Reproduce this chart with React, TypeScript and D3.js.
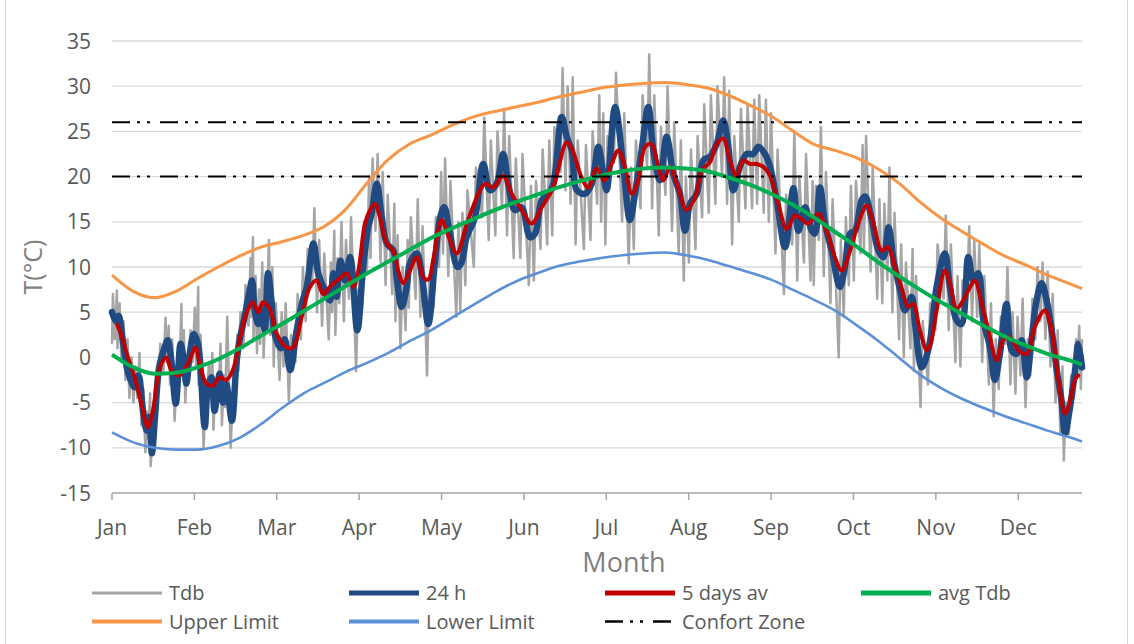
import React from "react";
import * as d3 from "d3";

// ---- chart data -------------------------------------------------------

const monthLabels = ["Jan", "Feb", "Mar", "Apr", "May", "Jun", "Jul", "Aug", "Sep", "Oct", "Nov", "Dec"];
// category axis labels are placed every 744 h (31 days)
const monthTickDays = [0, 31, 62, 93, 124, 155, 186, 217, 248, 279, 310, 341];
const yTicks = [-15, -10, -5, 0, 5, 10, 15, 20, 25, 30, 35];
const comfortLimits = [20, 26];

// daily statistics of the dry-bulb temperature (day of year, 24 h mean, hourly min, hourly max)
const dayOfYear = [
  0, 1.5, 2.5, 4, 5.5, 7, 8.5, 10, 11.5, 13, 14, 15, 16.2, 17.8, 19.8, 21, 22.3, 24, 25.8, 26.7,
  28, 29.2, 30.8, 32.1, 33, 34.9, 36.1, 37.4, 38.6, 40.5, 41.8, 43, 45.1, 46.8, 48, 49.9, 51.8, 52.7, 53.7, 55,
  56.2, 57.5, 58.7, 60, 61.3, 63.5, 65, 67, 69.5, 71.5, 73.3, 75.8, 77.6, 79.5, 82, 83.3, 84.5, 86, 87.7, 89.6,
  92.3, 94.5, 96.4, 97.7, 99.6, 101.5, 103.4, 105.9, 107.1, 109, 110.9, 112.1, 114.7, 116.5, 119, 121.5, 123.5, 125, 127, 130,
  131.5, 133.4, 136.6, 139.7, 142.2, 144.7, 147.2, 149.1, 151.6, 154.1, 157.3, 159.2, 161.7, 164.2, 166.1, 169.2, 171.1, 173, 174.9, 178,
  180.5, 183, 184.5, 186.1, 189.3, 192.4, 194.9, 196.8, 199.3, 201.8, 203.7, 206.2, 208.7, 211.2, 213.7, 215.6, 217.5, 220, 222.5, 225,
  227.5, 230, 231.9, 233.8, 236.3, 238.8, 241.3, 243.2, 245.7, 247.6, 250.1, 253.3, 256.4, 258.3, 260.8, 263.3, 264.5, 266.4, 268.3, 270.8,
  273.9, 275.8, 277.7, 279.6, 282.1, 283.4, 285.9, 288.4, 290.3, 292.2, 294.1, 296.6, 298.4, 300.9, 302.2, 304.7, 307.5, 310.3, 313.4, 315.3,
  317.8, 319.7, 322.2, 324.1, 326, 327.9, 330.4, 332.2, 334.1, 336.6, 338.5, 340.4, 342.3, 344.2, 346, 347.9, 349.8, 351.7, 353.6, 355.5,
  357.3, 358.6, 360.5, 362.4, 363.6, 365,
];
const mean24h = [
  5.0, 4.0, 4.6, 2.0, -1.0, -2.5, -3.3, -2.0, -5.5, -8.1, -6.6, -10.6, -6.5, -1.0, 1.1, 1.9, -0.3, -5.1, 1.5, 0.3,
  -2.9, 0.3, 2.6, 1.8, 0.0, -7.7, -3.2, -2.2, -5.9, -1.8, -5.0, -3.0, -7.0, -0.7, 1.9, 4.5, 7.4, 8.5, 5.2, 3.7,
  5.2, 3.0, 9.3, 6.3, 2.5, 1.0, 2.0, -1.4, 3.0, 6.0, 7.8, 12.6, 9.3, 7.8, 6.3, 9.3, 6.7, 10.7, 8.5, 11.1,
  3.0, 10.0, 14.4, 15.9, 19.2, 15.5, 12.6, 11.8, 8.9, 5.6, 7.8, 10.4, 11.5, 9.3, 3.7, 10.5, 15.5, 16.6, 14.0, 10.0,
  10.5, 13.3, 15.5, 21.4, 18.5, 19.2, 22.5, 19.2, 16.3, 16.6, 13.3, 13.7, 17.4, 18.1, 19.2, 26.6, 24.4, 22.9, 18.5, 18.1,
  19.2, 23.3, 21.0, 18.5, 27.7, 21.1, 15.2, 18.1, 22.9, 27.7, 22.9, 19.6, 24.4, 20.3, 18.1, 14.0, 17.0, 18.1, 21.8, 22.2,
  23.6, 26.2, 23.3, 18.5, 21.1, 22.5, 22.5, 23.3, 22.5, 21.1, 17.4, 12.2, 18.7, 14.0, 16.6, 14.0, 13.7, 18.8, 14.8, 11.8,
  7.8, 10.0, 13.7, 14.0, 17.4, 17.8, 15.2, 11.8, 11.1, 14.4, 10.7, 7.4, 5.2, 6.7, 3.7, -1.1, 1.3, 7.8, 11.5, 7.8,
  4.1, 3.7, 11.1, 8.5, 9.3, 4.1, 1.1, -2.5, 0.4, 5.9, 0.8, 0.4, 1.9, -2.2, 1.9, 6.3, 8.2, 6.3, 3.0, -1.4,
  -4.8, -8.4, -5.5, -1.4, 1.5, -1.1,
];
const tdbMin = [
  1.5, 2.0, 1.0, -0.5, -2.5, -4.5, -5.0, -4.5, -7.5, -10.5, -9.0, -12.0, -9.5, -4.0, -1.5, -0.5, -3.0, -7.0, -1.5, -2.0,
  -5.0, -2.0, -0.5, -1.0, -3.0, -10.0, -6.0, -4.5, -8.0, -4.5, -7.5, -5.5, -10.0, -3.5, -1.5, 1.0, 3.5, 4.5, 2.0, 0.5,
  1.5, 0.0, 5.0, 2.5, -1.0, -2.5, -1.0, -4.8, -0.5, 2.0, 4.0, 8.0, 5.0, 3.5, 2.0, 5.0, 2.5, 6.0, 4.0, 6.5,
  -1.5, 5.5, 9.5, 11.0, 14.0, 10.5, 8.0, 7.0, 4.0, 1.0, 3.0, 5.5, 6.5, 4.5, -2.0, 5.5, 10.0, 11.5, 9.0, 4.5,
  5.0, 8.0, 10.0, 15.5, 13.0, 13.5, 16.5, 13.5, 11.0, 11.0, 8.0, 8.5, 12.0, 12.5, 13.5, 20.5, 18.5, 17.0, 12.5, 12.0,
  13.0, 17.0, 15.0, 12.5, 21.5, 15.0, 10.4, 12.0, 16.5, 21.0, 16.5, 13.5, 18.0, 14.0, 11.5, 8.5, 10.5, 12.0, 15.5, 16.0,
  17.0, 20.0, 17.0, 12.5, 15.0, 16.5, 16.5, 17.0, 16.0, 15.0, 11.5, 7.0, 12.5, 8.5, 10.5, 8.5, 8.0, 13.0, 9.0, 6.0,
  0.0, 4.5, 8.0, 8.5, 11.5, 12.0, 9.5, 6.5, 6.0, 8.5, 5.0, 2.0, 0.0, 1.0, -1.5, -5.5, -3.0, 3.0, 6.5, 3.0,
  -0.5, -1.0, 6.5, 4.0, 4.5, -0.5, -3.0, -6.5, -3.5, 1.5, -3.0, -4.0, -2.0, -5.5, -2.0, 2.0, 4.0, 2.0, -1.0, -5.0,
  -8.5, -11.4, -8.5, -4.5, -2.0, -3.5,
];
const tdbMax = [
  7.0, 7.4, 6.0, 4.0, 2.0, 0.0, -1.0, 0.5, -3.5, -6.0, -4.0, -8.0, -3.5, 1.5, 4.4, 3.5, 2.0, -2.0, 5.9, 3.0,
  -0.5, 3.0, 5.5, 7.8, 2.5, -4.5, -0.5, 0.5, -3.0, 1.5, -2.0, 4.5, -4.0, 2.5, 5.0, 8.0, 11.0, 13.3, 9.0, 7.5,
  10.5, 7.0, 13.0, 10.0, 6.0, 5.0, 6.0, 2.5, 7.0, 10.0, 12.0, 16.5, 13.0, 11.5, 10.5, 14.0, 11.0, 15.0, 13.0, 15.5,
  7.5, 15.0, 20.0, 22.0, 22.5, 20.5, 18.0, 17.0, 13.5, 10.0, 13.0, 15.5, 17.5, 14.5, 8.5, 15.5, 20.5, 22.0, 19.5, 15.0,
  16.0, 18.5, 21.0, 26.5, 24.0, 25.0, 27.5, 24.5, 22.0, 22.5, 19.0, 19.5, 23.0, 24.0, 25.5, 32.0, 30.0, 31.0, 24.0, 23.5,
  25.0, 29.0, 27.0, 24.5, 31.5, 27.0, 21.0, 24.0, 29.0, 33.5, 29.0, 25.5, 30.0, 26.0, 24.0, 20.0, 23.0, 24.5, 28.0, 29.0,
  30.0, 31.0, 29.5, 24.5, 27.5, 28.0, 28.5, 29.0, 28.5, 27.0, 23.0, 18.0, 25.0, 20.0, 22.5, 19.5, 19.0, 25.5, 20.5, 17.5,
  13.0, 15.5, 19.0, 19.5, 23.5, 24.5, 21.0, 17.5, 17.0, 21.0, 16.0, 12.5, 10.5, 12.0, 9.0, 4.0, 6.0, 12.5, 15.7, 12.5,
  9.0, 8.5, 14.5, 13.0, 12.5, 9.0, 6.0, 2.0, 4.5, 10.0, 5.0, 4.5, 6.5, 2.0, 6.5, 10.0, 10.5, 9.5, 7.0, 3.0,
  -1.0, -5.0, -2.0, 2.0, 3.5, 2.0,
];

// 5-day running average
const fiveDayDays = [
  2, 3.5, 6, 8.5, 11, 13.5, 15.4, 18, 20.4, 22.3, 24.8, 26.7, 29.2, 31.4, 33, 35.5, 38, 40.5, 43, 45.5,
  48, 50.5, 53, 55, 56.8, 59.3, 62, 65.7, 68.2, 71.4, 74.5, 77, 79.5, 82, 84.6, 86.4, 88.3, 90.8, 92.7, 95.2,
  97.1, 99, 100.8, 103.4, 105.9, 107.7, 109.6, 112.1, 114.7, 117.1, 119, 121, 124, 126.5, 129.7, 134, 140.4, 143.5, 147.2, 150.4,
  154.2, 157.9, 161.7, 166, 171.1, 173, 176.7, 179.2, 182.4, 185.2, 188, 190.5, 193, 195.6, 198, 200.6, 203, 205, 207.5, 210,
  213, 216.2, 219.4, 222, 225, 227.5, 230, 232.5, 235, 237.6, 240, 242.6, 245, 247.6, 250.7, 253.9, 257, 259.5, 262, 265.8,
  268.9, 272, 274.6, 277.7, 280.8, 284, 286.5, 289.6, 292, 294.6, 297, 299.6, 301.5, 304, 306.6, 308, 310.3, 313.4, 315.3, 317.8,
  320.3, 322.9, 324.7, 327.3, 329.8, 332.9, 335.4, 337.9, 341, 344.2, 347.3, 351, 353.6, 356.1, 358.6, 360.5, 362.4, 363.6,
];
const fiveDayAvg = [
  3.6, 2.5, 0.0, -2.2, -5.1, -7.7, -5.9, -1.1, 0.0, -1.4, -2.0, -1.6, -0.3, 1.1, -0.7, -2.9, -3.1, -2.2, -2.5, -1.4,
  1.9, 4.8, 6.1, 5.0, 6.1, 5.4, 2.6, 1.1, 1.1, 4.5, 7.8, 8.5, 7.0, 7.8, 8.5, 8.9, 9.3, 7.8, 9.6, 14.8,
  16.3, 17.0, 15.5, 12.6, 11.8, 9.6, 8.2, 9.6, 11.1, 8.9, 8.6, 11.0, 15.2, 13.5, 11.5, 15.2, 19.2, 18.8, 20.1, 18.1,
  16.3, 14.8, 16.6, 18.8, 23.8, 23.1, 19.9, 18.8, 20.9, 19.6, 21.4, 22.9, 21.1, 18.1, 19.6, 23.3, 23.6, 21.8, 19.6, 21.1,
  18.8, 16.3, 17.7, 20.7, 21.6, 23.6, 24.2, 21.8, 20.1, 21.8, 21.4, 21.4, 21.1, 20.1, 17.0, 14.2, 15.7, 15.3, 14.8, 15.9,
  14.0, 11.1, 9.6, 11.8, 14.8, 16.8, 14.8, 11.8, 12.2, 10.0, 7.8, 5.6, 5.9, 3.0, 0.8, 1.5, 5.2, 9.6, 8.2, 5.4,
  6.3, 7.8, 8.5, 5.9, 3.0, -0.3, 1.9, 2.2, 0.8, 0.4, 3.4, 5.2, 3.0, -2.5, -6.2, -4.8, -2.5, -2.0,
];

// smooth annual curves, sampled every 8 days
const smoothDays = [
  0, 8, 16, 24, 32, 40, 48, 56, 64, 72, 80, 88, 96, 104, 112, 120, 128, 136, 144, 152, 160, 168, 176, 184,
  192, 200, 208, 216, 224, 232, 240, 248, 256, 264, 272, 280, 288, 296, 304, 312, 320, 328, 336, 344, 352, 360, 365,
];
const avgTdb = [
  0.3, -1.1, -1.8, -1.7, -1.1, -0.2, 1.0, 2.4, 3.7, 5.1, 6.5, 7.9, 9.3, 10.6, 11.9, 13.2, 14.3, 15.3, 16.3, 17.2, 18.0, 18.8, 19.5, 20.1,
  20.6, 20.9, 21.0, 20.9, 20.6, 19.9, 19.1, 18.1, 16.9, 15.5, 13.9, 12.3, 10.6, 9.0, 7.5, 6.1, 4.8, 3.5, 2.3, 1.3, 0.4, -0.3, -0.8,
];
const upperLimit = [
  9.1, 7.3, 6.6, 7.3, 8.7, 10.0, 11.2, 12.2, 12.8, 13.5, 14.5, 16.4, 19.3, 21.9, 23.6, 24.6, 25.7, 26.6, 27.2, 27.7, 28.2, 28.8, 29.3, 29.8,
  30.1, 30.3, 30.4, 30.2, 29.8, 29.0, 27.9, 26.7, 25.1, 23.6, 22.9, 22.1, 20.9, 19.3, 17.2, 15.4, 13.9, 12.5, 11.2, 10.2, 9.1, 8.2, 7.6,
];
const lowerLimit = [
  -8.3, -9.4, -10.0, -10.2, -10.2, -9.8, -8.9, -7.4, -5.6, -4.0, -2.8, -1.6, -0.6, 0.5, 1.8, 3.0, 4.4, 5.8, 7.2, 8.4, 9.3, 10.1, 10.6, 11.0,
  11.3, 11.5, 11.6, 11.3, 10.8, 10.1, 9.4, 8.6, 7.5, 6.4, 5.2, 3.6, 1.9, 0.0, -1.9, -3.4, -4.6, -5.6, -6.5, -7.3, -8.1, -8.8, -9.3,
];

// ---- styling ----------------------------------------------------------

const COLORS = {
  tdb: "#A5A5A5",
  day: "#1F4A82",
  fiveDay: "#C00000",
  avg: "#00B050",
  upper: "#F79646",
  lower: "#5B8FD8",
  comfort: "#000000",
  grid: "#D9D9D9",
  axis: "#A6A6A6",
  text: "#595959",
  title: "#7F7F7F",
};
const FONT = "'Open Sans', 'DejaVu Sans', sans-serif";
const COMFORT_DASH = "18 7 3 7 3 10";

const WIDTH = 1134;
const HEIGHT = 644;
const PLOT = { left: 112, right: 1082, top: 41, bottom: 493 };

type Pt = [number, number];

export default function App() {
  const x = d3.scaleLinear().domain([0, 365]).range([PLOT.left, PLOT.right]);
  const y = d3.scaleLinear().domain([-15, 35]).range([PLOT.bottom, PLOT.top]);

  const smoothLine = d3
    .line<Pt>()
    .x((p) => x(p[0]))
    .y((p) => y(p[1]))
    .curve(d3.curveMonotoneX);
  const wigglyLine = d3
    .line<Pt>()
    .x((p) => x(p[0]))
    .y((p) => y(p[1]))
    .curve(d3.curveCatmullRom.alpha(0.5));
  const rawLine = d3
    .line<Pt>()
    .x((p) => x(p[0]))
    .y((p) => y(p[1]));

  // hourly trace drawn as a min/max zig-zag per day
  const tdbPts: Pt[] = [];
  dayOfYear.forEach((d, i) => {
    tdbPts.push([Math.max(0, d - 0.45), tdbMin[i]]);
    tdbPts.push([Math.min(365, d + 0.35), tdbMax[i]]);
  });
  const dayPts: Pt[] = dayOfYear.map((d, i) => [d, mean24h[i]]);
  const fivePts: Pt[] = fiveDayDays.map((d, i) => [d, fiveDayAvg[i]]);
  const avgPts: Pt[] = smoothDays.map((d, i) => [d, avgTdb[i]]);
  const upPts: Pt[] = smoothDays.map((d, i) => [d, upperLimit[i]]);
  const lowPts: Pt[] = smoothDays.map((d, i) => [d, lowerLimit[i]]);

  const legendRows = [
    [
      { label: "Tdb", color: COLORS.tdb, width: 3, x: 92 },
      { label: "24 h", color: COLORS.day, width: 5, x: 349 },
      { label: "5 days av", color: COLORS.fiveDay, width: 5, x: 605 },
      { label: "avg Tdb", color: COLORS.avg, width: 5, x: 861 },
    ],
    [
      { label: "Upper Limit", color: COLORS.upper, width: 4, x: 92 },
      { label: "Lower Limit", color: COLORS.lower, width: 4, x: 349 },
      { label: "Confort Zone", color: COLORS.comfort, width: 2.5, x: 605, dash: COMFORT_DASH },
    ],
  ];
  const legendY = [593, 621.5];

  return (
    <div style={{ position: "absolute", left: 0, top: 0 }}>
      <svg width={WIDTH} height={HEIGHT} style={{ display: "block", background: "#fff" }} fontFamily={FONT}>
        <rect x={5.5} y={-2} width={1122} height={HEIGHT + 4} fill="#fff" stroke="#D9D9D9" strokeWidth={1} />

        {/* horizontal gridlines */}
        {yTicks.slice(1).map((t) => (
          <line key={t} x1={PLOT.left} x2={PLOT.right} y1={y(t)} y2={y(t)} stroke={COLORS.grid} strokeWidth={1.3} />
        ))}

        {/* x axis */}
        <line x1={PLOT.left} x2={PLOT.right} y1={y(-15)} y2={y(-15)} stroke={COLORS.axis} strokeWidth={1.5} />
        {monthTickDays.map((d, i) => (
          <g key={monthLabels[i]}>
            <line x1={x(d)} x2={x(d)} y1={y(-15)} y2={y(-15) + 7} stroke={COLORS.axis} strokeWidth={1.5} />
            <text x={x(d)} y={535} textAnchor="middle" fontSize={21} fill={COLORS.text}>
              {monthLabels[i]}
            </text>
          </g>
        ))}

        {/* y tick labels */}
        {yTicks.map((t) => (
          <text key={t} x={91} y={y(t)} dy="0.36em" textAnchor="end" fontSize={21} fill={COLORS.text}>
            {t}
          </text>
        ))}

        {/* axis titles */}
        <text x={624} y={572} textAnchor="middle" fontSize={27} fill={COLORS.title}>
          Month
        </text>
        <text transform={`translate(42, 267) rotate(-90)`} textAnchor="middle" fontSize={25} fill={COLORS.title}>
          T(°C)
        </text>

        {/* series */}
        <path d={rawLine(tdbPts) ?? ""} fill="none" stroke={COLORS.tdb} strokeWidth={2.5} strokeLinejoin="round" />
        <path d={wigglyLine(dayPts) ?? ""} fill="none" stroke={COLORS.day} strokeWidth={6.5} strokeLinejoin="round" strokeLinecap="round" />
        <path d={wigglyLine(fivePts) ?? ""} fill="none" stroke={COLORS.fiveDay} strokeWidth={4} strokeLinejoin="round" strokeLinecap="round" />
        <path d={smoothLine(avgPts) ?? ""} fill="none" stroke={COLORS.avg} strokeWidth={4} />
        <path d={smoothLine(upPts) ?? ""} fill="none" stroke={COLORS.upper} strokeWidth={3} />
        <path d={smoothLine(lowPts) ?? ""} fill="none" stroke={COLORS.lower} strokeWidth={2.6} />
        {comfortLimits.map((c) => (
          <line
            key={c}
            x1={PLOT.left}
            x2={PLOT.right}
            y1={y(c)}
            y2={y(c)}
            stroke={COLORS.comfort}
            strokeWidth={2}
            strokeDasharray={COMFORT_DASH}
          />
        ))}

        {/* legend */}
        {legendRows.map((row, r) =>
          row.map((item) => (
            <g key={item.label}>
              <line
                x1={item.x}
                x2={item.x + 70}
                y1={legendY[r]}
                y2={legendY[r]}
                stroke={item.color}
                strokeWidth={item.width}
                strokeDasharray={(item as any).dash}
              />
              <text x={item.x + 77} y={legendY[r]} dy="0.36em" fontSize={20} fill={COLORS.text}>
                {item.label}
              </text>
            </g>
          ))
        )}
      </svg>
    </div>
  );
}
